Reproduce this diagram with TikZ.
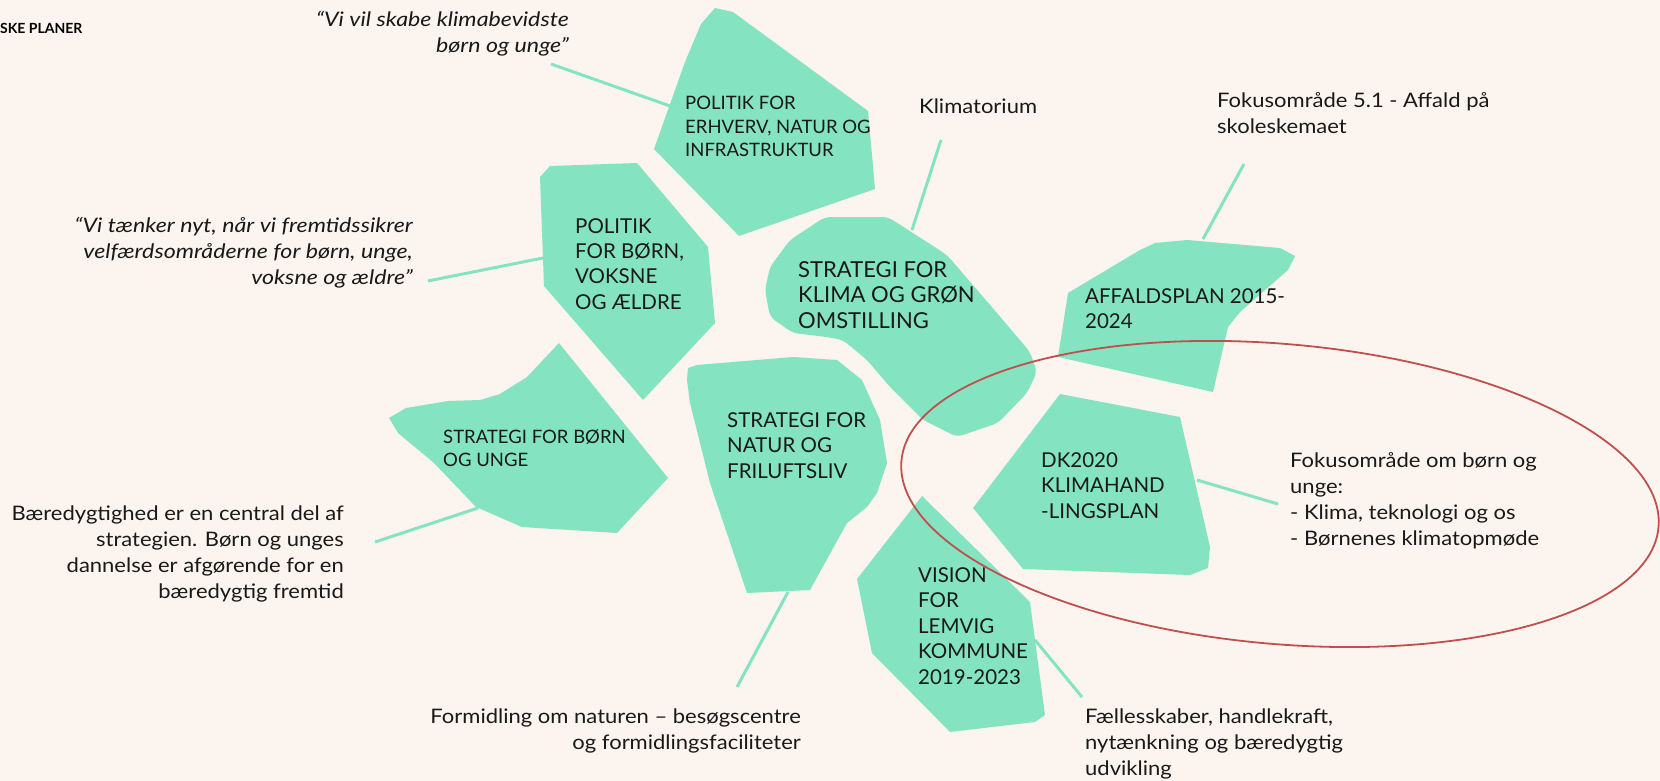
\documentclass[tikz,border=0pt]{standalone}
\usepackage{fontspec}
\setmainfont{Lato}
\newfontfamily\notefont{Lato}[FakeStretch=1.1]
\newfontfamily\quotefont{Lato}[FakeStretch=1.16]
\definecolor{planGreen}{RGB}{132,227,192}
\definecolor{paper}{RGB}{252,244,238}
\definecolor{ringRed}{RGB}{192,80,77}
\definecolor{ink}{RGB}{25,25,25}
\newcommand{\leftlines}[1]{\begin{tabular}[t]{@{}l@{}}#1\end{tabular}}
\newcommand{\rightlines}[1]{\begin{tabular}[t]{@{}r@{}}#1\end{tabular}}

\begin{document}
\begin{tikzpicture}[x=1pt, y=-1pt,
        plan/.style={fill=planGreen},
        link/.style={draw=planGreen, line width=3pt},
        ring/.style={draw=ringRed, line width=1.8pt},
        big/.style={inner sep=0, text=ink, anchor=base west, font=\fontsize{22}{25.5}\selectfont},
        mid/.style={big, font=\fontsize{20.5}{25.5}\selectfont},
        small/.style={big, font=\fontsize{18.5}{23.5}\selectfont},
        note/.style={inner sep=0, text=ink, font=\notefont\fontsize{20}{26}\selectfont},
        quote/.style={note, font=\quotefont\fontsize{20}{26}\selectfont\itshape}]
        % Page:
        \useasboundingbox (0, 0) rectangle (1660, 781);
        \fill[paper] (0, 0) rectangle (1660, 781);

        % Heading:
        \node[inner sep=0, anchor=base west, font=\fontsize{14}{16}\selectfont\bfseries] (section) at (0, 34) {SKE PLANER};

        % Plans:
        \fill[plan] (715,8) -- (733,12) -- (868,111) -- (875,189) -- (739,236) -- (654,149) -- (685,62) -- (701,24) -- cycle;
        \fill[plan] (540,177) -- (550,166) -- (637,163) -- (708,247) -- (715,323) -- (643,400) -- (544,286) -- cycle;
        \fill[plan] (559,343) -- (668,478) -- (617,533) -- (522,527) -- (476,507) -- (434,463) -- (398,433) -- (389,418)
                    -- (406,408) -- (448,401) -- (480,400) -- (500,394) -- (527,377) -- cycle;
        \fill[plan, rounded corners=6pt] (825,217) -- (888,217) -- (947,255) -- (997,313) -- (1030,352) -- (1037,372)
                    -- (1027,393) -- (998,423) -- (957,437) -- (923,420) -- (890,387) -- (867,360) -- (843,340)
                    -- (827,337) -- (793,333) -- (770,317) -- (765,290) -- (770,267) -- (790,240) -- cycle;
        \fill[plan] (688,368) -- (697,365) -- (793,357) -- (837,360) -- (862,380) -- (880,420) -- (887,463) -- (877,493)
                    -- (867,507) -- (847,523) -- (810,590) -- (747,593) -- (710,483) -- (690,403) -- (687,380) -- cycle;
        \fill[plan] (922,496) -- (1030,602) -- (1035,640) -- (1045,715) -- (1035,722) -- (950,732) -- (872,653) -- (857,579) -- cycle;
        \fill[plan] (1060,394) -- (1180,417) -- (1210,547) -- (1208,568) -- (1190,575) -- (1023,569) -- (973,508) -- cycle;
        \fill[plan] (1068,293) -- (1140,250) -- (1155,243) -- (1187,240) -- (1280,248) -- (1295,256) -- (1288,270)
                    -- (1240,312) -- (1228,327) -- (1213,392) -- (1058,357) -- cycle;

        % Plan titles:
        \node[small] (erhverv) at (685, 110) {\leftlines{POLITIK FOR\\ERHVERV, NATUR OG\\INFRASTRUKTUR}};
        \node[mid] (velfaerd) at (575, 233) {\leftlines{POLITIK\\FOR BØRN,\\VOKSNE\\OG ÆLDRE}};
        \node[small] (boernunge) at (443, 443) {\leftlines{STRATEGI FOR BØRN\\OG UNGE}};
        \node[big] (klima) at (798, 277) {\leftlines{STRATEGI FOR\\KLIMA OG GRØN\\OMSTILLING}};
        \node[mid] (natur) at (727, 427) {\leftlines{STRATEGI FOR\\NATUR OG\\FRILUFTSLIV}};
        \node[mid] (vision) at (918, 582) {\leftlines{VISION\\FOR\\LEMVIG\\KOMMUNE\\2019-2023}};
        \node[mid] (dk2020) at (1041, 467) {\leftlines{DK2020\\KLIMAHAND\\-LINGSPLAN}};
        \node[mid] (affald) at (1085, 303) {\leftlines{AFFALDSPLAN 2015-\\2024}};

        % Notes:
        \node[quote, anchor=base east] (q-erhverv) at (569, 27) {\rightlines{“Vi vil skabe klimabevidste\\børn og unge”}};
        \node[quote, anchor=base east] (q-velfaerd) at (413, 232) {\rightlines{“Vi tænker nyt, når vi fremtidssikrer\\velfærdsområderne for børn, unge,\\voksne og ældre”}};
        \node[note, anchor=base east] (n-boernunge) at (344, 520) {\rightlines{Bæredygtighed er en central del af\\strategien. Børn og unges\\dannelse er afgørende for en\\bæredygtig fremtid}};
        \node[note, anchor=base east] (n-natur) at (801, 723) {\rightlines{Formidling om naturen – besøgscentre\\og formidlingsfaciliteter}};
        \node[note, anchor=base west] (n-vision) at (1085, 723) {\leftlines{Fællesskaber, handlekraft,\\nytænkning og bæredygtig\\udvikling}};
        \node[note, anchor=base west] (n-dk2020) at (1290, 467) {\leftlines{Fokusområde om børn og\\unge:\\- Klima, teknologi og os\\- Børnenes klimatopmøde}};
        \node[note, anchor=base west] (n-klima) at (919, 114) {Klimatorium};
        \node[note, anchor=base west] (n-affald) at (1217, 108) {\leftlines{Fokusområde 5.1 - Affald på\\skoleskemaet}};

        % Connector ends:
        \coordinate (erhverv-a) at (670, 106);   \coordinate (erhverv-b) at (551, 64);
        \coordinate (velfaerd-a) at (543, 258);  \coordinate (velfaerd-b) at (428, 281);
        \coordinate (boernunge-a) at (478, 508); \coordinate (boernunge-b) at (375, 542);
        \coordinate (klima-a) at (912, 230);     \coordinate (klima-b) at (941, 140);
        \coordinate (natur-a) at (788, 592);     \coordinate (natur-b) at (737, 687);
        \coordinate (vision-a) at (1035, 640);   \coordinate (vision-b) at (1082, 697);
        \coordinate (affald-a) at (1203, 239);   \coordinate (affald-b) at (1244, 164);
        \coordinate (dk2020-a) at (1197, 480);   \coordinate (dk2020-b) at (1278, 504);

        % Connectors:
        \foreach \p in {erhverv, velfaerd, boernunge, klima, natur, vision, affald, dk2020}
            \draw[link] (\p-a) -- (\p-b);

        % Ring round the climate plans:
        \coordinate (ring-c) at (1280, 494);
        \draw[ring, rotate around={-5:(ring-c)}] (ring-c) ellipse [x radius=380, y radius=150];
    \end{tikzpicture}
\end{document}
